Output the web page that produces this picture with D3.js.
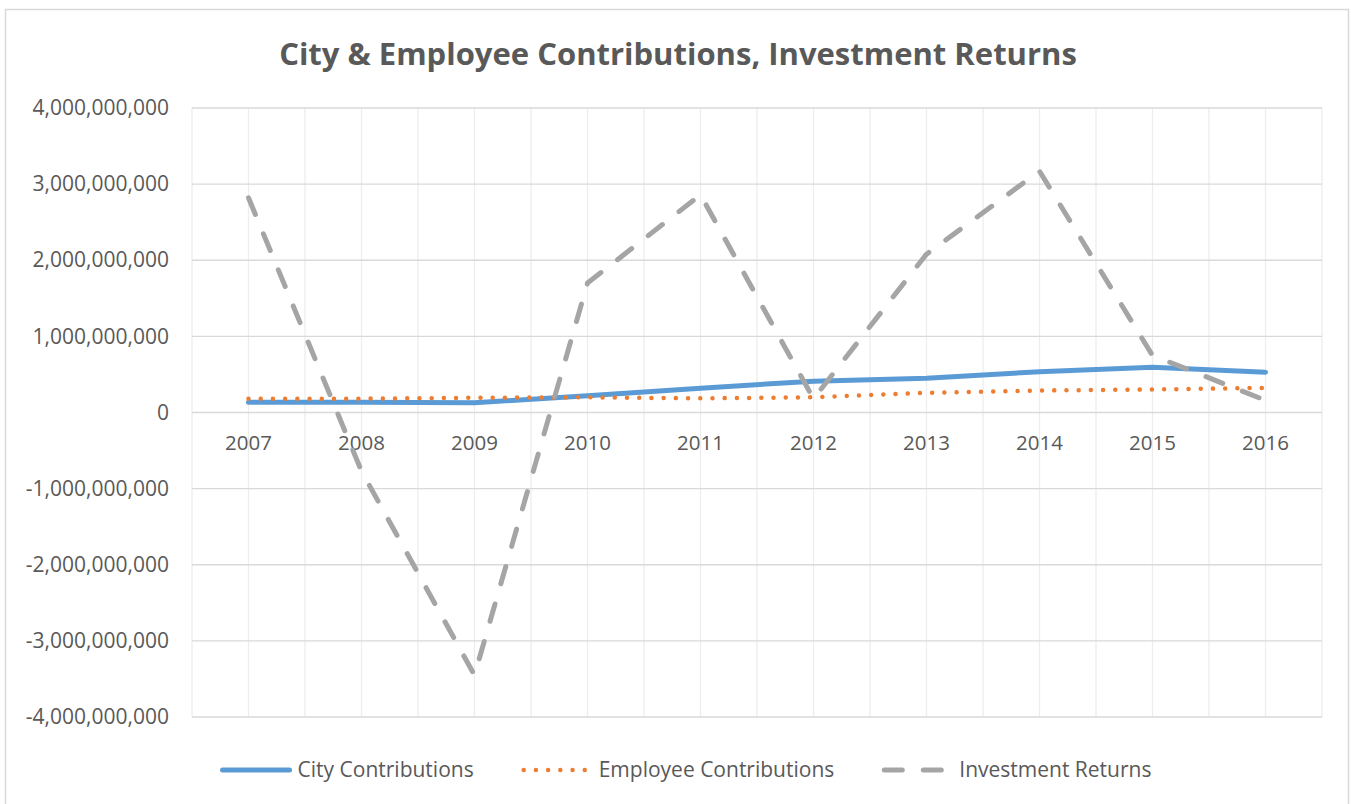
<!DOCTYPE html>
<html>
<head>
<meta charset="utf-8">
<script src="https://cdn.jsdelivr.net/npm/d3@7"></script>
<style>
  body { margin: 0; background: #fff; }
  svg { display: block; font-family: "Open Sans", sans-serif; }
</style>
</head>
<body>
<svg id="chart" width="1351" height="804"></svg>
<script>
// values
var years = ["2007", "2008", "2009", "2010", "2011", "2012", "2013", "2014", "2015", "2016"];
var cityContributions = [135e6, 135e6, 127e6, 220e6, 320e6, 411e6, 450e6, 535e6, 596e6, 530e6];
var employeeContributions = [182e6, 182e6, 193e6, 200e6, 186e6, 200e6, 258e6, 289e6, 302e6, 324e6];
var investmentReturns = [2.82e9, -0.77e9, -3.45e9, 1.70e9, 2.86e9, 0.18e9, 2.08e9, 3.17e9, 0.75e9, 0.16e9];
var yTicks = [-4e9, -3e9, -2e9, -1e9, 0, 1e9, 2e9, 3e9, 4e9];

var series = [
  { name: "City Contributions", values: cityContributions, color: "#5B9BD5", width: 5, dash: null, cap: "round" },
  { name: "Employee Contributions", values: employeeContributions, color: "#ED7D31", width: 4.5, dash: "0.01,12.2", cap: "round" },
  { name: "Investment Returns", values: investmentReturns, color: "#A5A5A5", width: 5, dash: "18,21", cap: "round" }
];

var W = 1351, H = 804;
var margin = { top: 108, right: 29, bottom: 87, left: 192 };
var width = W - margin.left - margin.right,
    height = H - margin.top - margin.bottom;

var svg = d3.select("#chart");

// outer chart border
svg.append("rect")
  .attr("x", 5.5).attr("y", 9.5)
  .attr("width", 1343).attr("height", 800)
  .attr("fill", "none")
  .attr("stroke", "#D9D9D9")
  .attr("stroke-width", 1.5);

svg.append("text")
  .attr("x", 678)
  .attr("y", 65)
  .attr("text-anchor", "middle")
  .attr("font-size", "31px")
  .attr("font-weight", "bold")
  .attr("fill", "#595959")
  .text("City & Employee Contributions, Investment Returns");

var g = svg.append("g")
  .attr("transform", "translate(" + margin.left + "," + margin.top + ")");

var x = d3.scaleBand().domain(years).range([0, width]).padding(0);
var y = d3.scaleLinear().domain([-4e9, 4e9]).range([height, 0]);
var cx = function(d) { return x(d) + x.bandwidth() / 2; };

// vertical gridlines: category edges and centres
var vLines = [];
years.forEach(function(yr) { vLines.push(x(yr)); vLines.push(cx(yr)); });
vLines.push(width);

g.append("g").attr("class", "grid-v")
  .selectAll("line")
  .data(vLines)
  .join("line")
    .attr("x1", d => d).attr("x2", d => d)
    .attr("y1", 0).attr("y2", height)
    .attr("stroke", "#EDEDED")
    .attr("stroke-width", 1.3);

g.append("g").attr("class", "grid-h")
  .selectAll("line")
  .data(yTicks)
  .join("line")
    .attr("x1", 0).attr("x2", width)
    .attr("y1", d => y(d)).attr("y2", d => y(d))
    .attr("stroke", "#D9D9D9")
    .attr("stroke-width", 1.3);

// y axis labels (plain hyphen for negatives, like Excel)
var fmt = d3.format(",");
var yAxis = d3.axisLeft(y)
  .tickValues(yTicks)
  .tickFormat(d => fmt(d).replace("\u2212", "-"))
  .tickSize(0)
  .tickPadding(23);

g.append("g")
  .attr("class", "axis axis--y")
  .call(yAxis)
  .call(s => s.select(".domain").remove())
  .selectAll("text")
    .attr("font-family", "'Open Sans', sans-serif")
    .attr("font-size", "21px")
    .attr("fill", "#595959");

// category labels sit just below the zero line
g.append("g")
  .attr("class", "axis axis--x")
  .selectAll("text")
  .data(years)
  .join("text")
    .attr("x", d => cx(d))
    .attr("y", y(0) + 30)
    .attr("dy", "0.35em")
    .attr("text-anchor", "middle")
    .attr("font-size", "20.5px")
    .attr("fill", "#595959")
    .text(d => d);

var line = d3.line()
  .x((d, i) => cx(years[i]))
  .y(d => y(d));

g.append("g").attr("class", "series")
  .selectAll("path")
  .data(series)
  .join("path")
    .attr("d", d => line(d.values))
    .attr("fill", "none")
    .attr("stroke", d => d.color)
    .attr("stroke-width", d => d.width)
    .attr("stroke-linecap", d => d.cap)
    .attr("stroke-linejoin", "round")
    .attr("stroke-dasharray", d => d.dash);

// legend
var legend = svg.append("g").attr("class", "legend");
var legendY = 770, symLen = 73, symGap = 5, itemGap = 50;
var items = legend.selectAll("g")
  .data(series)
  .join("g");

items.append("line")
  .attr("x1", 3).attr("x2", symLen - 3)
  .attr("y1", 0).attr("y2", 0)
  .attr("stroke", d => d.color)
  .attr("stroke-width", d => d.width)
  .attr("stroke-linecap", d => d.cap)
  .attr("stroke-dasharray", d => d.dash);

items.append("text")
  .attr("x", symLen + symGap)
  .attr("dy", "0.35em")
  .attr("font-size", "21px")
  .attr("fill", "#595959")
  .text(d => d.name);

var widths = [];
items.each(function() { widths.push(this.getBBox().width); });
var total = d3.sum(widths) + itemGap * (widths.length - 1);
var xPos = 684 - total / 2;
items.attr("transform", function(d, i) {
  var t = "translate(" + xPos + "," + legendY + ")";
  xPos += widths[i] + itemGap;
  return t;
});
</script>
</body>
</html>
